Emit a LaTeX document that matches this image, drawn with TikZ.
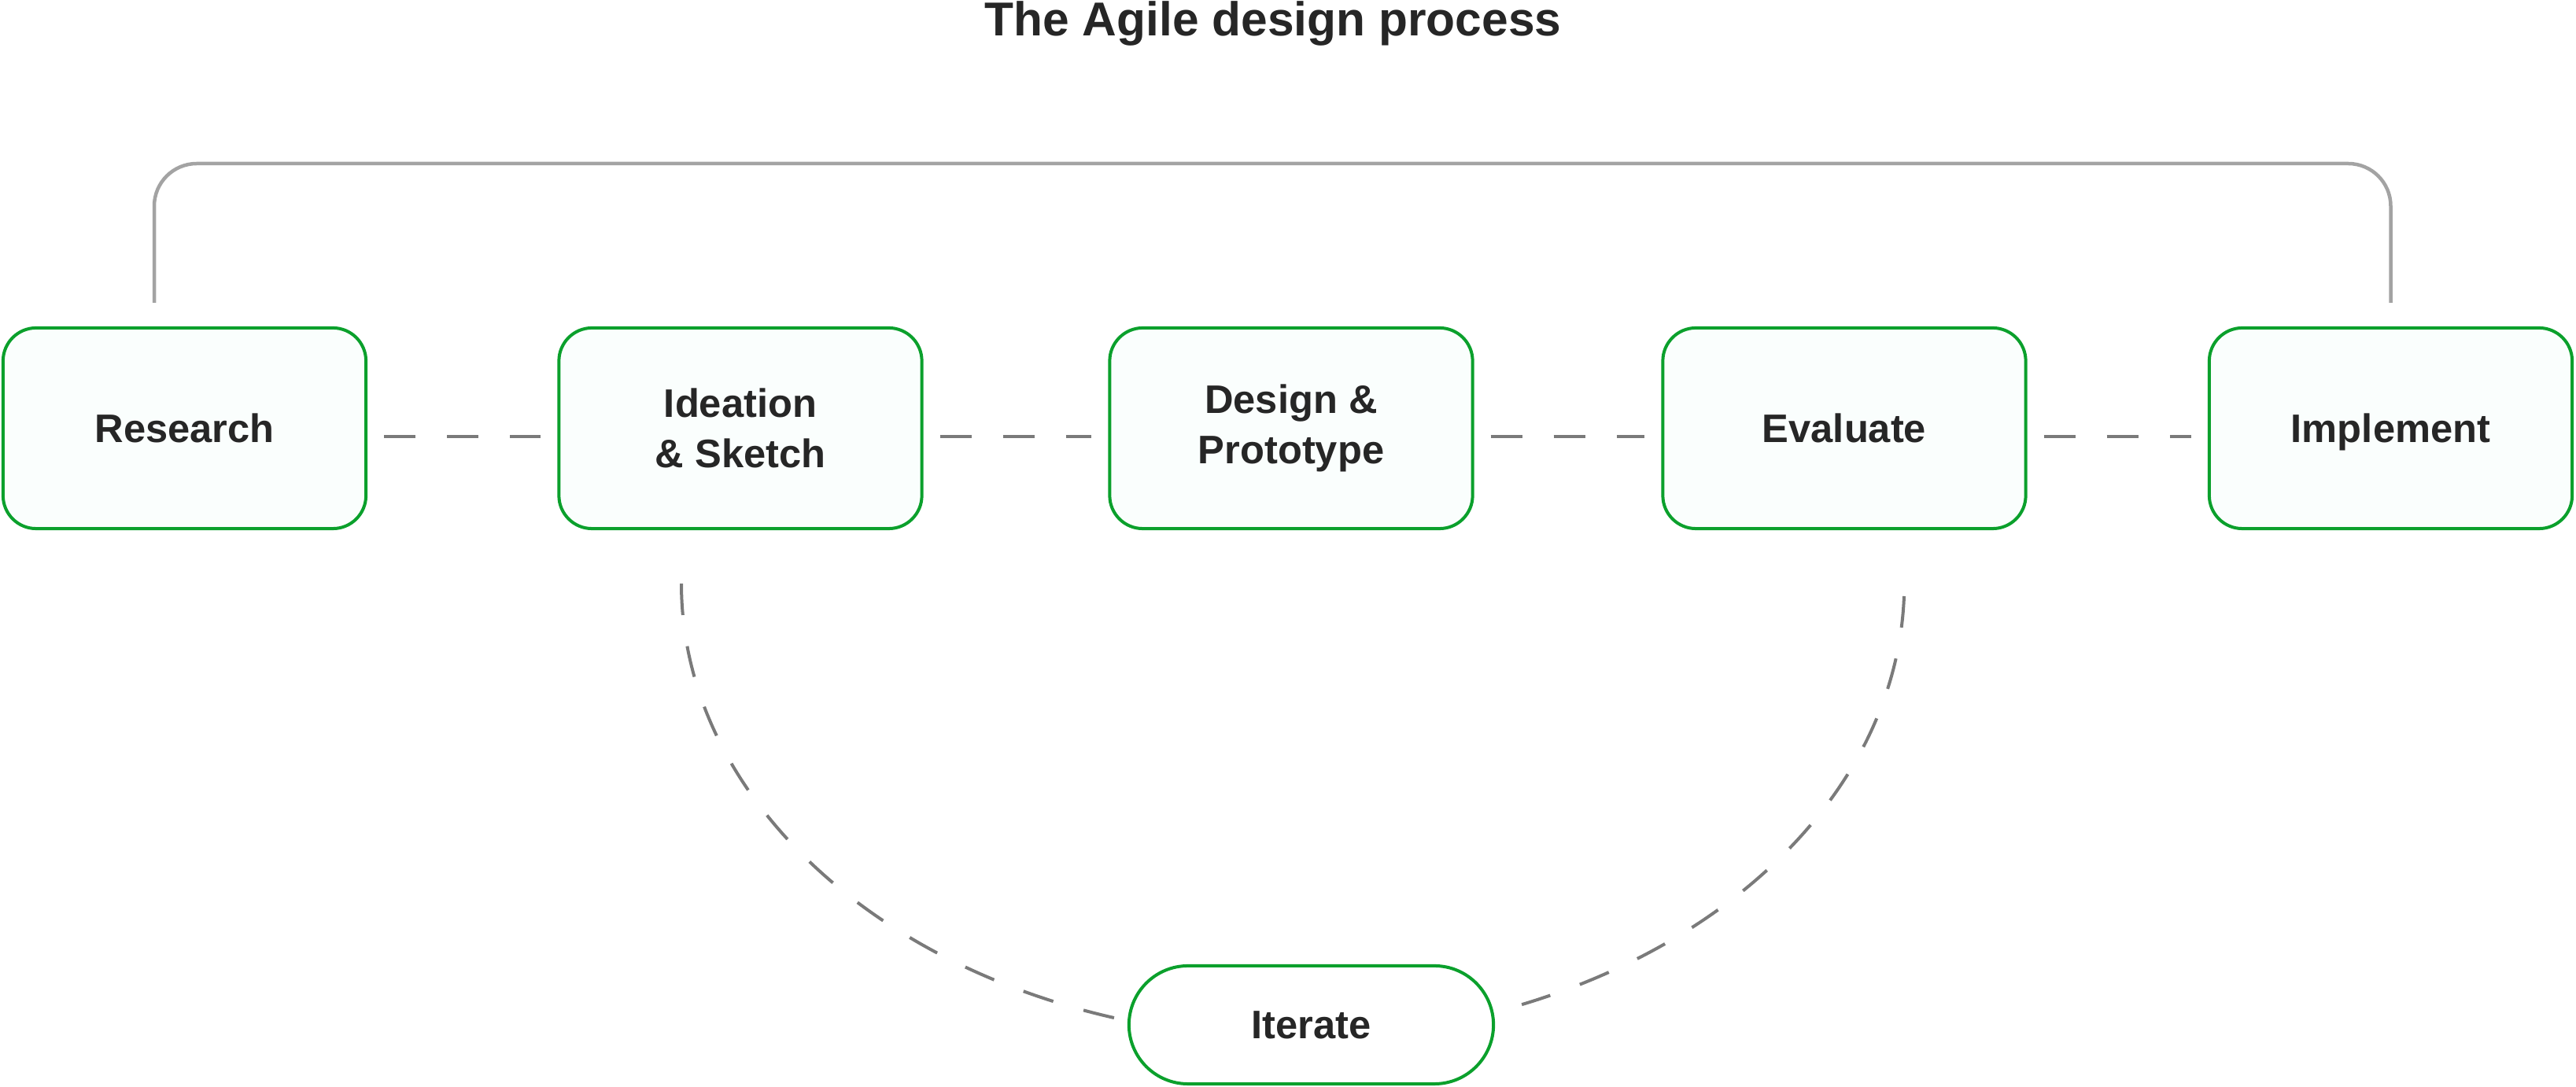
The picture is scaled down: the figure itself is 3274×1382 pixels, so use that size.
\documentclass[tikz,border=0pt]{standalone}
\usepackage{fontspec}
\setmainfont{Liberation Sans}
\definecolor{stagegreen}{HTML}{0BA02C}
\definecolor{stagefill}{HTML}{FAFEFD}
\definecolor{linkgray}{HTML}{7A7A7A}
\definecolor{framegray}{HTML}{A3A3A3}
\definecolor{labelink}{HTML}{262626}
\tikzset{stage/.style={draw=stagegreen, fill=stagefill, line width=0.04cm,
  rounded corners=0.42cm, minimum width=4.61cm, minimum height=2.55cm,
  inner sep=0pt, align=center, text=labelink,
  font=\bfseries\fontsize{14.4pt}{18.2pt}\selectfont}}
\tikzset{link/.style={draw=linkgray, line width=0.04cm, dash pattern=on 0.4cm off 0.4cm}}
\tikzset{frame/.style={draw=framegray, line width=0.045cm, rounded corners=0.54cm}}
\begin{document}
\begin{tikzpicture}[x=0.01cm, y=0.01cm]
      \useasboundingbox (0, 0) rectangle (3274, 1382);

      \node [anchor=base, text=labelink, font=\bfseries\fontsize{17.2pt}{20pt}\selectfont] (title) at (1618, 1336) {The Agile design process};

      \node [stage] (research) at (234.5, 837.5) {Research};
      \node [stage] (ideation) at (941, 837.5) {Ideation\\\& Sketch};
      \node [stage] (design) at (1641, 837.5) {Design \&\\Prototype};
      \node [stage] (evaluate) at (2344, 837.5) {Evaluate};
      \node [stage, text depth=0pt] (implement) at (3038.5, 837.5) {Implement};
      \node [stage, fill=white, rounded corners=0.75cm, minimum width=4.63cm, minimum height=1.5cm] (iterate) at (1666.5, 79) {Iterate};

      \foreach \a/\b in {research/ideation, ideation/design, design/evaluate, evaluate/implement}
        \draw [link, shorten <=0.21cm, shorten >=0.21cm] ([yshift=-0.11cm]\a.east) -- ([yshift=-0.11cm]\b.west);

      \coordinate (frametop) at (0, 1174);
      \draw [frame] ([shift={(-38.5, 30)}]research.north) |- (frametop -| implement.north) -- ([yshift=0.3cm]implement.north);

      \coordinate (loopa) at (866, 640);
      \coordinate (loopb) at (2420, 624);
      \draw [link] (loopa) arc [start angle=180, end angle=253, x radius=7.77cm, y radius=5.77cm];
      \draw [link] (loopb) arc [start angle=358.4, end angle=292, x radius=7.77cm, y radius=5.77cm];
    \end{tikzpicture}
\end{document}
